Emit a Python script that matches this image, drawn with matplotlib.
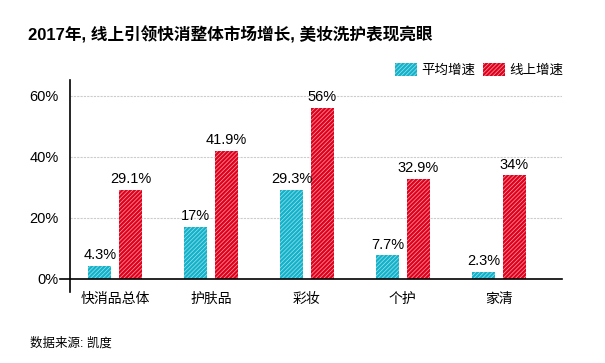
import matplotlib
matplotlib.use("Agg")
import matplotlib.pyplot as plt
import numpy as np
from matplotlib.patches import Patch

plt.rcParams['font.family'] = ['Liberation Sans', 'Noto Sans CJK SC', 'DejaVu Sans']
plt.rcParams['hatch.linewidth'] = 1.6

categories = ['快消品总体', '护肤品', '彩妆', '个护', '家清']
avg_growth = [4.3, 17, 29.3, 7.7, 2.3]
online_growth = [29.1, 41.9, 56, 32.9, 34]
avg_labels = ['4.3%', '17%', '29.3%', '7.7%', '2.3%']
online_labels = ['29.1%', '41.9%', '56%', '32.9%', '34%']
series_names = ['平均增速', '线上增速']

cyan = '#12b2ca'
cyan_light = '#9fe0ea'
red = '#e0001b'
red_light = '#f6a0aa'
HATCH = '////////'

fig = plt.figure(figsize=(6.05, 3.63), dpi=100)
ax = fig.add_axes([70/605, 1-292/363, 492/605, 212/363])

x = np.arange(len(categories))
w = 0.24
off = 0.16
ax.bar(x - off, avg_growth, w, facecolor=cyan_light, edgecolor=cyan,
       hatch=HATCH, linewidth=0)
ax.bar(x + off, online_growth, w, facecolor=red_light, edgecolor=red,
       hatch=HATCH, linewidth=0)

for xi, v, t in zip(x - off, avg_growth, avg_labels):
    ax.text(xi, v + 1.2, t, ha='center', va='bottom', fontsize=10.5)
for xi, v, t in zip(x + off, online_growth, online_labels):
    ax.text(xi, v + 1.2, t, ha='center', va='bottom', fontsize=10.5)

ax.set_xlim(-0.47, 4.66)
ax.set_ylim(-4.3, 65.2)
ax.set_yticks([0, 20, 40, 60])
ax.set_yticklabels(['0%', '20%', '40%', '60%'], fontsize=10.5)
for g in [20, 40, 60]:
    ax.axhline(g, color='#cccccc', lw=0.8, ls=(0, (2, 1)), zorder=0)
ax.axhline(0, xmin=-0.02, xmax=1, color='black', lw=1.2, clip_on=False)

ax.set_xticks(x)
ax.set_xticklabels(categories, fontsize=10)
ax.tick_params(axis='both', length=0)
ax.tick_params(axis='x', pad=0)
ax.tick_params(axis='y', pad=8)

for s in ['top', 'right', 'bottom']:
    ax.spines[s].set_visible(False)
ax.spines['left'].set_linewidth(1.2)

handles = [Patch(facecolor=cyan_light, edgecolor=cyan, hatch=HATCH, linewidth=0),
           Patch(facecolor=red_light, edgecolor=red, hatch=HATCH, linewidth=0)]
fig.legend(handles, series_names, loc='center right', bbox_to_anchor=(563/605, 1-70/363),
           ncol=2, frameon=False, fontsize=9.75, handlelength=1.6, handleheight=1.1,
           handletextpad=0.3, columnspacing=0.6, borderpad=0, borderaxespad=0)

fig.text(28/605, 1-35/363, '2017年, 线上引领快消整体市场增长, 美妆洗护表现亮眼',
         fontsize=12, fontweight='bold', va='center', ha='left')
fig.text(30/605, 1-343/363, '数据来源: 凯度', fontsize=9, va='center', ha='left')

fig.savefig('out.png', dpi=100)
